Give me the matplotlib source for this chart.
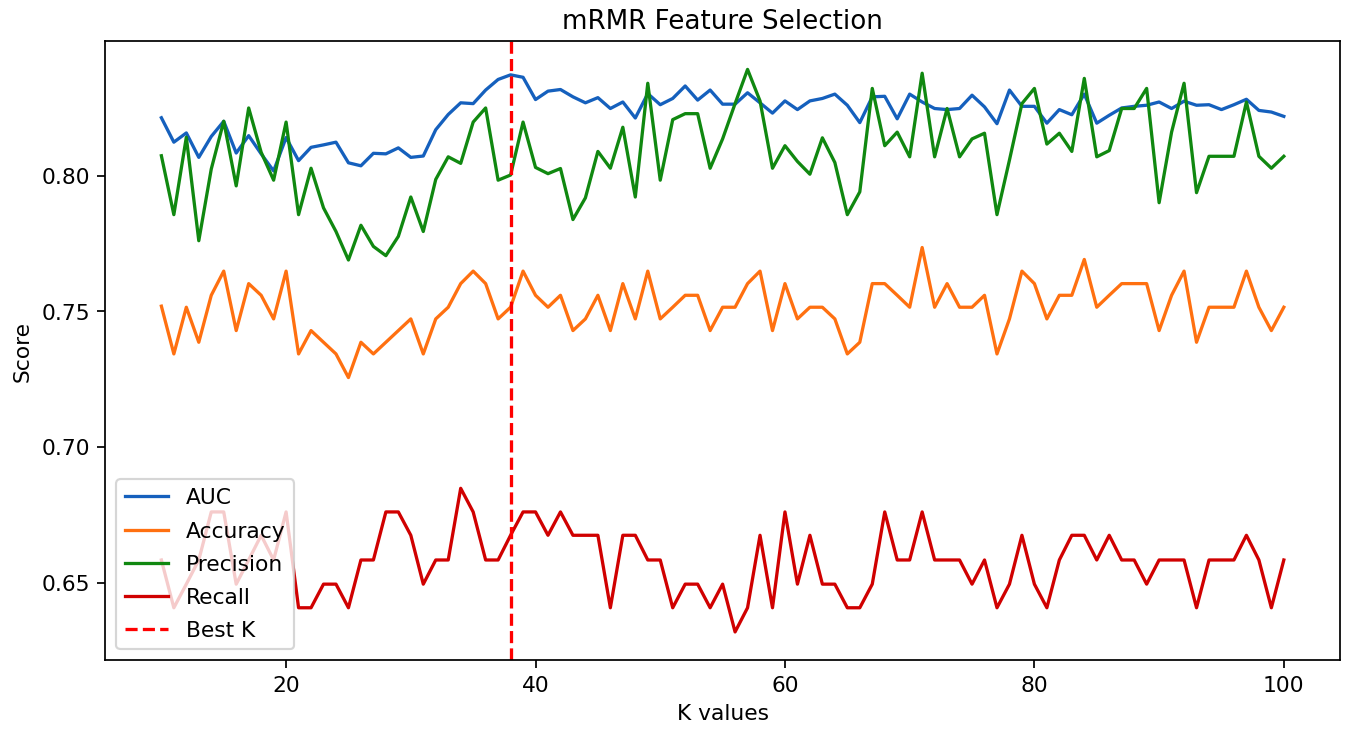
import numpy as np
import matplotlib
matplotlib.use("Agg")
from matplotlib import pyplot as plt

# k values tested by mRMR
k_values = np.arange(10, 101)

auc = [0.8213, 0.8123, 0.8157, 0.8067, 0.8144, 0.8200, 0.8083, 0.8147, 0.8080, 0.8017,
       0.8140, 0.8055, 0.8104, 0.8113, 0.8123, 0.8047, 0.8036, 0.8082, 0.8080, 0.8102,
       0.8067, 0.8072, 0.8169, 0.8225, 0.8268, 0.8265, 0.8315, 0.8354, 0.8371, 0.8362,
       0.8280, 0.8311, 0.8317, 0.8290, 0.8268, 0.8287, 0.8247, 0.8271, 0.8212, 0.8302,
       0.8261, 0.8284, 0.8330, 0.8278, 0.8315, 0.8263, 0.8263, 0.8305, 0.8268, 0.8230,
       0.8275, 0.8243, 0.8275, 0.8284, 0.8300, 0.8259, 0.8195, 0.8290, 0.8292, 0.8209,
       0.8300, 0.8271, 0.8247, 0.8243, 0.8247, 0.8296, 0.8253, 0.8191, 0.8315, 0.8255,
       0.8255, 0.8193, 0.8243, 0.8224, 0.8300, 0.8193, 0.8222, 0.8249, 0.8255, 0.8259,
       0.8271, 0.8247, 0.8274, 0.8259, 0.8261, 0.8243, 0.8261, 0.8281, 0.8240, 0.8234,
       0.8218]

accuracy = [0.7519, 0.7343, 0.7515, 0.7386, 0.7559, 0.7648, 0.7429, 0.7602, 0.7559, 0.7472,
            0.7648, 0.7343, 0.7429, 0.7386, 0.7343, 0.7256, 0.7386, 0.7343, 0.7386, 0.7429,
            0.7472, 0.7343, 0.7472, 0.7515, 0.7602, 0.7648, 0.7602, 0.7472, 0.7515, 0.7648,
            0.7559, 0.7515, 0.7559, 0.7429, 0.7472, 0.7559, 0.7429, 0.7602, 0.7472, 0.7648,
            0.7472, 0.7515, 0.7559, 0.7559, 0.7429, 0.7515, 0.7515, 0.7602, 0.7648, 0.7429,
            0.7602, 0.7472, 0.7515, 0.7515, 0.7472, 0.7343, 0.7386, 0.7602, 0.7602, 0.7559,
            0.7515, 0.7735, 0.7515, 0.7602, 0.7515, 0.7515, 0.7559, 0.7343, 0.7472, 0.7648,
            0.7602, 0.7472, 0.7559, 0.7559, 0.7691, 0.7515, 0.7559, 0.7602, 0.7602, 0.7602,
            0.7429, 0.7559, 0.7648, 0.7386, 0.7515, 0.7515, 0.7515, 0.7648, 0.7515, 0.7429,
            0.7515]

precision = [0.8073, 0.7856, 0.8141, 0.7760, 0.8024, 0.8200, 0.7962, 0.8249, 0.8086, 0.7983,
             0.8197, 0.7856, 0.8027, 0.7881, 0.7794, 0.7689, 0.7817, 0.7739, 0.7705, 0.7776,
             0.7921, 0.7794, 0.7986, 0.8069, 0.8045, 0.8197, 0.8249, 0.7983, 0.8002, 0.8197,
             0.8030, 0.8007, 0.8026, 0.7838, 0.7918, 0.8089, 0.8027, 0.8178, 0.7921, 0.8340,
             0.7983, 0.8206, 0.8228, 0.8228, 0.8027, 0.8135, 0.8265, 0.8391, 0.8275, 0.8027,
             0.8110, 0.8052, 0.8005, 0.8139, 0.8048, 0.7856, 0.7940, 0.8321, 0.8110, 0.8160,
             0.8069, 0.8377, 0.8069, 0.8247, 0.8069, 0.8135, 0.8156, 0.7856, 0.8057, 0.8265,
             0.8321, 0.8116, 0.8156, 0.8089, 0.8358, 0.8069, 0.8092, 0.8247, 0.8247, 0.8321,
             0.7900, 0.8160, 0.8340, 0.7937, 0.8071, 0.8071, 0.8071, 0.8271, 0.8071, 0.8027,
             0.8071]

recall = [0.6584, 0.6408, 0.6495, 0.6584, 0.6761, 0.6761, 0.6495, 0.6584, 0.6675, 0.6584,
          0.6761, 0.6408, 0.6408, 0.6495, 0.6495, 0.6408, 0.6584, 0.6584, 0.6761, 0.6761,
          0.6675, 0.6495, 0.6584, 0.6584, 0.6848, 0.6761, 0.6584, 0.6584, 0.6675, 0.6761,
          0.6761, 0.6675, 0.6761, 0.6675, 0.6675, 0.6675, 0.6408, 0.6675, 0.6675, 0.6584,
          0.6584, 0.6408, 0.6495, 0.6495, 0.6408, 0.6495, 0.6319, 0.6408, 0.6675, 0.6408,
          0.6761, 0.6495, 0.6675, 0.6495, 0.6495, 0.6408, 0.6408, 0.6495, 0.6761, 0.6584,
          0.6584, 0.6761, 0.6584, 0.6584, 0.6584, 0.6495, 0.6584, 0.6408, 0.6495, 0.6675,
          0.6495, 0.6408, 0.6584, 0.6675, 0.6675, 0.6584, 0.6675, 0.6584, 0.6584, 0.6495,
          0.6584, 0.6584, 0.6584, 0.6408, 0.6584, 0.6584, 0.6584, 0.6675, 0.6584, 0.6408,
          0.6584]

best_k = 38

dpi = 157
fig = plt.figure(figsize=(1349.4 / dpi, 731.4 / dpi), dpi=dpi)
ax = fig.add_subplot(111)
fig.subplots_adjust(left=0.078, right=0.993, top=0.943, bottom=0.097)

ax.plot(k_values, auc, color='#1560BD', label='AUC')
ax.plot(k_values, accuracy, color='#FF7010', label='Accuracy')
ax.plot(k_values, precision, color='#108810', label='Precision')
ax.plot(k_values, recall, color='#D00000', label='Recall')
# best k marker
ax.axvline(best_k, color='red', linestyle='--', label='Best K')

ax.set_title("mRMR Feature Selection")
ax.set_xlabel("K values")
ax.set_ylabel("Score")
ax.legend(loc='lower left', labelspacing=0.6)

fig.savefig("out.png", dpi=dpi)
